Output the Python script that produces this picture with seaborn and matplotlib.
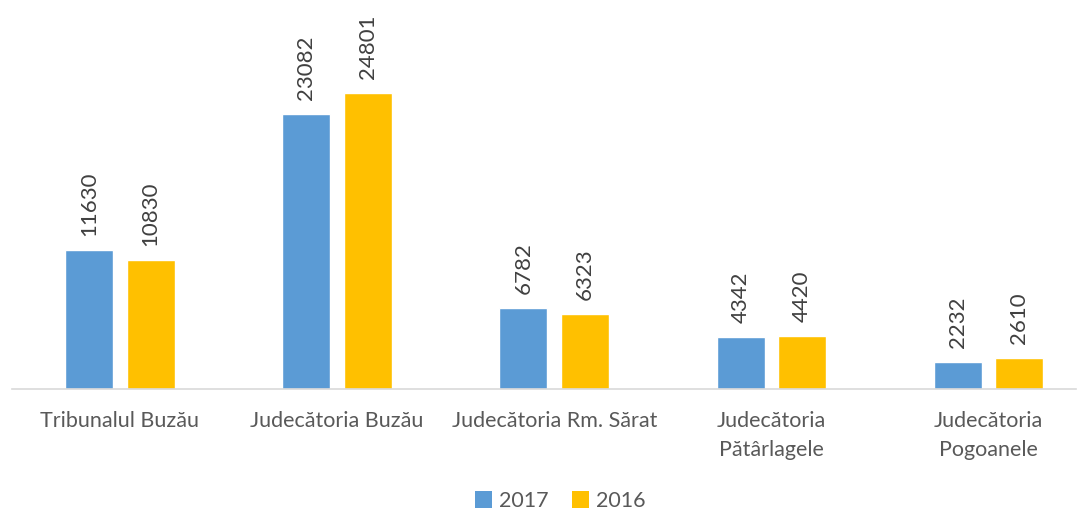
import matplotlib
matplotlib.use("Agg")
import matplotlib.pyplot as plt
import seaborn as sns
import pandas as pd
from matplotlib.patches import Patch

categories = ["Tribunalul Buzău", "Judecătoria Buzău", "Judecătoria Rm. Sărat",
              "Judecătoria\nPătârlagele", "Judecătoria\nPogoanele"]
years = ["2017", "2016"]
values_2017 = [11630, 23082, 6782, 4342, 2232]
values_2016 = [10830, 24801, 6323, 4420, 2610]
colors = ["#5B9BD5", "#FFC000"]

df = pd.DataFrame({
    "cat": categories * 2,
    "year": [years[0]] * 5 + [years[1]] * 5,
    "val": values_2017 + values_2016,
})

sns.set_theme(style="white")
plt.rcParams["font.family"] = ["Lato", "DejaVu Sans"]

fig = plt.figure(figsize=(10.84, 5.13), dpi=100)
ax = fig.add_axes([12 / 1084, 1 - 389 / 513, 1064 / 1084, 379 / 513])

sns.barplot(data=df, x="cat", y="val", hue="year", palette=colors,
            order=categories, hue_order=years, width=0.567, gap=0.22,
            ax=ax, legend=False, saturation=1)

ax.set_xlim(-0.497, 4.403)
ax.set_ylim(0, 31755)
for s in ["top", "right", "left"]:
    ax.spines[s].set_visible(False)
ax.spines["bottom"].set_color("#D9D9D9")
ax.spines["bottom"].set_linewidth(1.2)
ax.set_yticks([])
ax.set_xlabel("")
ax.set_ylabel("")
ax.tick_params(axis="x", length=0, pad=16, labelsize=15.5, labelcolor="#595959")
for lbl in ax.get_xticklabels():
    lbl.set_linespacing(1.55)

for cont in ax.containers:
    ax.bar_label(cont, labels=[f"{int(v)}" for v in cont.datavalues],
                 rotation=90, padding=10, fontsize=16, color="#404040")

handles = [Patch(facecolor=c, edgecolor="none") for c in colors]
fig.legend(handles, years, loc="center", bbox_to_anchor=(560 / 1084, 1 - 501 / 513),
           ncol=2, frameon=False, fontsize=15.5, labelcolor="#595959",
           handlelength=0.8, handleheight=0.8, handletextpad=0.3, columnspacing=1.1)

fig.savefig("out.png", dpi=100, facecolor="white")
